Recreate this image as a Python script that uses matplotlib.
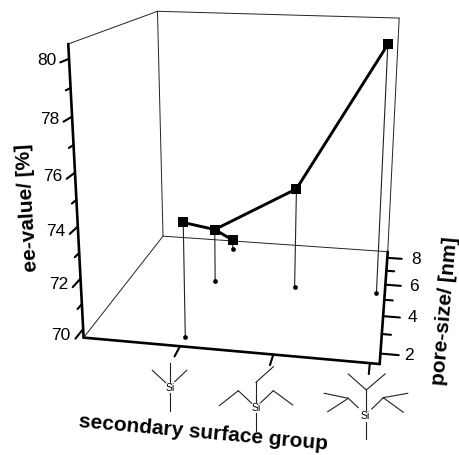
import numpy as np
import matplotlib
matplotlib.use("Agg")
import matplotlib.pyplot as plt

plt.rcParams['font.family'] = ['Liberation Sans', 'DejaVu Sans']

# data
group = [1, 1, 1, 2, 3]
pore_size = [2.0, 5.35, 7.85, 5.35, 5.4]
ee_value = [74.13, 72.0, 70.08, 74.0, 80.0]

ee_major = [70, 72, 74, 76, 78, 80]
ee_minor = [71, 73, 75, 77, 79]
pore_major = [2, 4, 6, 8]
pore_minor = [3, 5, 7]
group_ticks = [1, 2, 3]

g0, g1 = -0.07, 3.1
p0, p1 = 1.5, 8.5
e0, e1 = 69.65, 80.5

# calibration of the perspective view: (group, pore, ee) -> image pixel
calib_world = [(g0, p0, e0), (g0, p0, e1), (g0, p1, e0), (g0, p1, e1),
               (g1, p0, e0), (g1, p1, e0), (g1, p1, e1),
               (g0, p0, 70), (g0, p0, 72), (g0, p0, 74), (g0, p0, 76), (g0, p0, 78), (g0, p0, 80),
               (g1, 2, e0), (g1, 4, e0), (g1, 6, e0), (g1, 8, e0),
               (1, p0, e0), (2, p0, e0), (3, p0, e0)]
calib_pix = [(83, 337), (68, 44), (163, 236), (158, 12),
             (379, 362), (388, 251), (399, 17),
             (83, 328), (80, 277), (77, 227), (74, 173), (72, 117), (70, 59),
             (380, 353), (383, 317), (385, 286), (387, 258),
             (180, 347), (279, 356), (368, 364)]


def fit_camera(world, pix):
    rows = []
    for (x, y, z), (u, v) in zip(world, pix):
        x, y, z = x / 3, y / 10, z / 100
        rows.append([x, y, z, 1, 0, 0, 0, 0, -u * x, -u * y, -u * z, -u])
        rows.append([0, 0, 0, 0, x, y, z, 1, -v * x, -v * y, -v * z, -v])
    return np.linalg.svd(np.array(rows, dtype=float))[2][-1].reshape(3, 4)


cam = fit_camera(calib_world, calib_pix)


def proj(g, p, e):
    q = cam @ np.array([g / 3, p / 10, e / 100, 1.0])
    return q[0] / q[2], q[1] / q[2]


def seg(ax, a, b, lw, color='black'):
    pa, pb = proj(*a), proj(*b)
    ax.plot([pa[0], pb[0]], [pa[1], pb[1]], color=color, lw=lw, solid_capstyle='round')


fig = plt.figure(figsize=(4.6, 4.55), dpi=100)
ax = fig.add_axes([0, 0, 1, 1])
ax.set_xlim(0, 460)
ax.set_ylim(455, 0)
ax.axis('off')

# thin box walls
for a, b in [((g0, p0, e1), (g0, p1, e1)), ((g0, p1, e1), (g1, p1, e1)),
             ((g0, p1, e1), (g0, p1, e0)), ((g1, p1, e1), (g1, p1, e0)),
             ((g0, p1, e0), (g1, p1, e0)), ((g0, p0, e0), (g0, p1, e0))]:
    seg(ax, a, b, 0.7, '#222222')

# thick axes
seg(ax, (g0, p0, e0), (g0, p0, e1), 1.9)
seg(ax, (g0, p0, e0), (g1, p0, e0), 1.9)
seg(ax, (g1, p0, e0), (g1, p1, e0), 1.9)

# ee ticks
for e in ee_major:
    seg(ax, (g0, p0, e), (g0, p0 - 0.5, e), 1.5)
    x, y = proj(g0, p0, e)
    ax.text(x - 22, y + 2 + (80 - e) * 0.5, str(e), fontsize=12.5, ha='center', va='center')
for e in ee_minor:
    seg(ax, (g0, p0, e), (g0, p0 - 0.28, e), 1.5)

# pore ticks
for p in pore_major:
    seg(ax, (g1, p, e0), (g1 + 0.19, p, e0), 1.5)
    x, y = proj(g1, p, e0)
    ax.text(x + 29, y + 1.5, str(p), fontsize=12.5, ha='center', va='center')
for p in pore_minor:
    seg(ax, (g1, p, e0), (g1 + 0.1, p, e0), 1.5)

# group ticks
for g in group_ticks:
    seg(ax, (g, p0, e0), (g, p0 - 0.5, e0), 1.5)

# stems, floor dots, connected squares
for g, p, e in zip(group, pore_size, ee_value):
    seg(ax, (g, p, e0), (g, p, e), 0.8, '#222222')
    x, y = proj(g, p, e0)
    ax.plot(x, y, 'o', color='black', ms=3.4, mew=0)

pts = [proj(g, p, e) for g, p, e in zip(group, pore_size, ee_value)]
ax.plot([q[0] for q in pts[:3]], [q[1] for q in pts[:3]], color='black', lw=2.1)
ax.plot([pts[1][0], pts[3][0], pts[4][0]], [pts[1][1], pts[3][1], pts[4][1]], color='black', lw=2.1)
ax.plot([q[0] for q in pts], [q[1] for q in pts], 's', color='black', ms=7.2, mew=0)

# silane structure sketches under the group ticks
sketches = [
    [((169.7, 363), (169.7, 381.7)), ((152.3, 370.3), (165.7, 382.7)),
     ((186.7, 370.3), (174.7, 381.7)), ((169.7, 393.3), (169.7, 411))],
    [((256, 413.3), (256, 431)), ((256, 401.7), (256, 382.3)), ((256, 382.3), (273.3, 366.7)),
     ((260.7, 402.7), (273.3, 390.7)), ((273.3, 390.7), (292.7, 405)),
     ((251.7, 403.3), (238.3, 390.7)), ((238.3, 390.7), (219.3, 405.7))],
    [((366.3, 421.7), (366.3, 439)), ((366.3, 410), (366.3, 390)),
     ((348.3, 374), (366.3, 390)), ((385, 374), (366.3, 390)),
     ((358.3, 407.7), (348.3, 398.3)), ((348.3, 398.3), (324.3, 393.3)),
     ((348.3, 398.3), (327.7, 411.7)), ((371.7, 409), (383.3, 397.7)),
     ((383.3, 397.7), (407.7, 393.3)), ((383.3, 397.7), (403.3, 412.3))],
]
si_labels = [(170, 388), (256, 408), (365, 416)]
for lines, (sx, sy) in zip(sketches, si_labels):
    for a, b in lines:
        ax.plot([a[0], b[0]], [a[1], b[1]], color='#222222', lw=0.8)
    ax.text(sx, sy, 'Si', fontsize=7.5, ha='center', va='center')

ax.text(28, 208, 'ee-value/ [%]', fontsize=15, fontweight='bold', rotation=93.5,
        ha='center', va='center', rotation_mode='anchor')
ax.text(445, 311, 'pore-size/ [nm]', fontsize=15, fontweight='bold', rotation=85,
        ha='center', va='center', rotation_mode='anchor')
ax.text(203, 433, 'secondary surface group', fontsize=15, fontweight='bold', rotation=-5.2,
        ha='center', va='center', rotation_mode='anchor')

fig.savefig('out.png', dpi=100)
